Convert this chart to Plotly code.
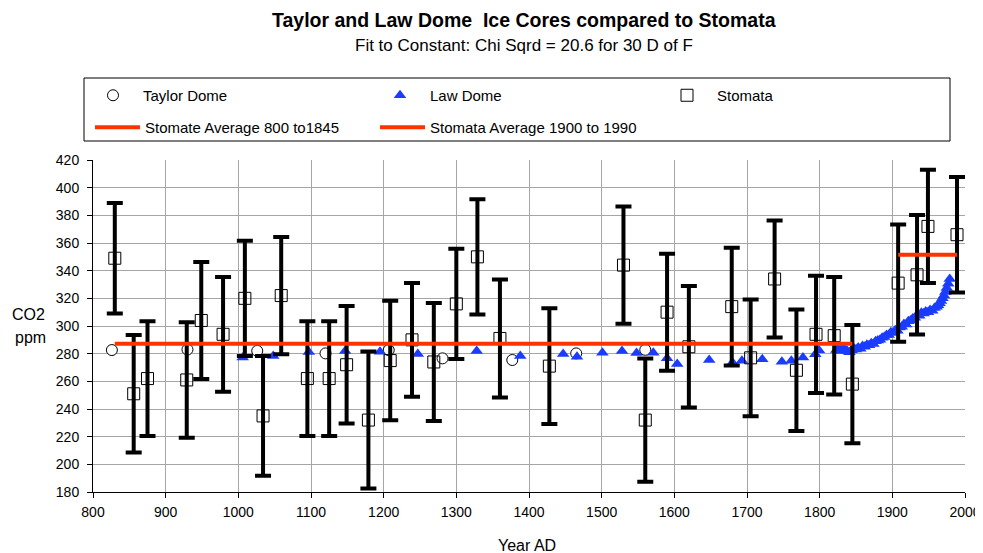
import plotly.graph_objects as go
import numpy as np

# ---------------- data ----------------
taylor_years = [826, 930, 1026, 1120, 1207, 1281, 1377, 1465, 1560]
taylor_co2 = [282.6, 283.0, 282.0, 280.2, 282.6, 276.6, 275.4, 280.2, 282.8]

law_years = [1006, 1048, 1097, 1147, 1195, 1247, 1328, 1388, 1447, 1466, 1501, 1528, 1548,
             1571, 1590, 1604, 1648, 1680, 1693, 1721, 1748, 1761, 1777, 1794, 1799,
             1823, 1826, 1829, 1832, 1835, 1838, 1841, 1844, 1847, 1850, 1853, 1856, 1859,
             1862, 1865, 1868, 1871, 1874, 1877, 1880, 1883, 1886, 1889, 1892, 1895, 1898,
             1901, 1904, 1907, 1910, 1913, 1916, 1919, 1922, 1925, 1928, 1931, 1934, 1937,
             1940, 1943, 1946, 1949, 1952, 1955, 1958, 1961, 1963, 1965, 1967, 1969, 1971,
             1973, 1975, 1977, 1979]
law_co2 = [277.3, 278.3, 281.2, 282.0, 281.4, 279.7, 282.0, 278.3, 279.7, 277.8, 280.7, 282.0, 280.5,
           280.7, 276.6, 272.5, 275.4, 273.7, 274.9, 275.9, 274.2, 274.9, 277.3, 279.5, 282.5,
           282.6, 284.0, 282.0, 284.5, 283.0, 282.0, 281.0, 282.5, 284.0, 283.0, 284.5, 283.5, 285.5,
           285.0, 286.5, 286.0, 287.5, 287.0, 289.0, 289.5, 290.0, 291.5, 292.0, 293.5, 293.5, 295.5,
           295.0, 297.0, 296.5, 299.0, 299.5, 301.5, 301.0, 303.5, 304.0, 305.5, 306.0, 308.0, 307.5,
           309.5, 309.0, 310.5, 310.0, 311.5, 311.0, 313.0, 314.0, 315.0, 316.5, 318.0, 320.0, 322.0,
           324.5, 327.5, 330.5, 334.0]

stomata_years = [830, 856, 875, 929, 949, 979, 1009, 1034, 1059, 1095, 1125, 1149, 1179, 1209,
                 1239, 1269, 1300, 1329, 1360, 1428, 1530, 1560, 1590, 1620, 1679, 1705, 1738,
                 1768, 1795, 1820, 1845, 1908, 1934, 1949, 1989]
stomata_co2 = [349, 251, 262, 261, 304, 294, 320, 235, 322, 262, 262, 272, 232, 275,
               290, 274, 316, 350, 291, 271, 344, 232, 310, 285, 314, 277, 334,
               268, 294, 293, 258, 331, 337, 372, 366]
stomata_err = [40, 42.5, 41.5, 41.7, 42.3, 41.5, 41.7, 43.3, 42.4, 41.5, 41.5, 42.5, 49.5, 43.2,
               41.1, 42.6, 39.8, 41.7, 42.6, 41.8, 42.3, 44.5, 42.3, 44, 42.5, 42.2, 42.3,
               43.9, 42.4, 42.5, 42.7, 42.4, 43.2, 41, 41.8]

x_ticks = list(range(800, 2001, 100))
y_ticks = list(range(180, 421, 20))

# averages derived from the stomata series
sy = np.array(stomata_years)
sc = np.array(stomata_co2)
m1 = (sy >= 800) & (sy <= 1845)
m2 = (sy >= 1900) & (sy <= 1990)
avg1 = float(sc[m1].mean())
avg2 = float(sc[m2].mean())

# ---------------- layout helpers ----------------
# page body has an 8px margin, so the figure is 8px smaller and offset
OFF = 8
W, H = 983 - OFF, 553 - OFF
L, R, T, B = 93, 965, 160, 492          # plot area in reference pixels
def px(xp):
    return (xp - L) / (R - L)
def py(yp):
    return (B - yp) / (B - T)

RED = "#FF3300"
BLUE = "#1a3cff"
FONT = "Liberation Sans, Arial, sans-serif"

fig = go.Figure()

fig.add_trace(go.Scatter(
    x=taylor_years, y=taylor_co2, mode="markers", name="Taylor Dome",
    marker=dict(symbol="circle", size=11, color="white", line=dict(color="black", width=1)),
    legend="legend"))
fig.add_trace(go.Scatter(
    x=law_years, y=law_co2, mode="markers", name="Law Dome",
    marker=dict(symbol="triangle-up", size=11, color=BLUE, line=dict(width=0)),
    legend="legend"))
fig.add_trace(go.Scatter(
    x=stomata_years, y=stomata_co2, mode="markers", name="Stomata",
    marker=dict(symbol="square-open", size=12, color="black", line=dict(color="black", width=1)),
    error_y=dict(type="data", array=stomata_err, visible=True, color="black", thickness=4, width=8),
    legend="legend"))
fig.add_trace(go.Scatter(
    x=[int(sy[m1].min()), int(sy[m1].max())], y=[avg1, avg1], mode="lines",
    name="Stomate Average 800 to1845", line=dict(color=RED, width=4), legend="legend2"))
fig.add_trace(go.Scatter(
    x=[int(sy[m2].min()), int(sy[m2].max())], y=[avg2, avg2], mode="lines",
    name="Stomata Average 1900 to 1990", line=dict(color=RED, width=4), legend="legend2"))

axis_common = dict(
    showgrid=True, gridcolor="#a6a6a6", gridwidth=1,
    showline=True, linecolor="black", linewidth=1,
    ticks="outside", ticklen=5, tickcolor="black", tickwidth=1,
    tickfont=dict(family=FONT, size=14, color="black"),
    zeroline=False, mirror=False,
)

fig.update_layout(
    width=W, height=H,
    margin=dict(l=L - OFF, r=W - (R - OFF), t=T - OFF, b=H - (B - OFF), autoexpand=False),
    paper_bgcolor="white", plot_bgcolor="white",
    font=dict(family=FONT, size=14, color="black"),
    xaxis=dict(range=[800, 2000], tickvals=x_ticks, ticktext=[str(v) for v in x_ticks],
               ticklabelstandoff=2, **axis_common),
    yaxis=dict(range=[180, 420], tickvals=y_ticks, ticktext=[str(v) for v in y_ticks],
               ticklabelstandoff=5, **axis_common),
    legend=dict(orientation="h", x=px(83), xanchor="left", y=py(79), yanchor="top",
                entrywidth=222, entrywidthmode="pixels", itemwidth=50,
                font=dict(family=FONT, size=15, color="black"),
                bgcolor="rgba(0,0,0,0)", borderwidth=0, traceorder="normal"),
    legend2=dict(orientation="h", x=px(90), xanchor="left", y=py(111), yanchor="top",
                 entrywidth=225, entrywidthmode="pixels", itemwidth=45,
                 font=dict(family=FONT, size=15, color="black"),
                 bgcolor="rgba(0,0,0,0)", borderwidth=0, traceorder="normal"),
    showlegend=True,
    shapes=[dict(type="rect", xref="paper", yref="paper",
                 x0=px(84), x1=px(950), y0=py(141), y1=py(78),
                 line=dict(color="black", width=1), fillcolor="rgba(0,0,0,0)")],
    annotations=[
        dict(text="<b>Taylor and Law Dome  Ice Cores compared to Stomata</b>", xref="paper", yref="paper",
             x=px(524), y=py(20), xanchor="center", yanchor="middle", showarrow=False,
             font=dict(family=FONT, size=19.5, color="black")),
        dict(text="Fit to Constant: Chi Sqrd = 20.6 for 30 D of F", xref="paper", yref="paper",
             x=px(524), y=py(46), xanchor="center", yanchor="middle", showarrow=False,
             font=dict(family=FONT, size=17, color="black")),
        dict(text="CO2", xref="paper", yref="paper", x=px(28), y=py(314), xanchor="center",
             yanchor="middle", showarrow=False, font=dict(family=FONT, size=16, color="black")),
        dict(text="ppm", xref="paper", yref="paper", x=px(30), y=py(337), xanchor="center",
             yanchor="middle", showarrow=False, font=dict(family=FONT, size=16, color="black")),
        dict(text="Year AD", xref="paper", yref="paper", x=px(527), y=py(545), xanchor="center",
             yanchor="middle", showarrow=False, font=dict(family=FONT, size=16, color="black")),
    ],
)

fig.write_html("out.html")
